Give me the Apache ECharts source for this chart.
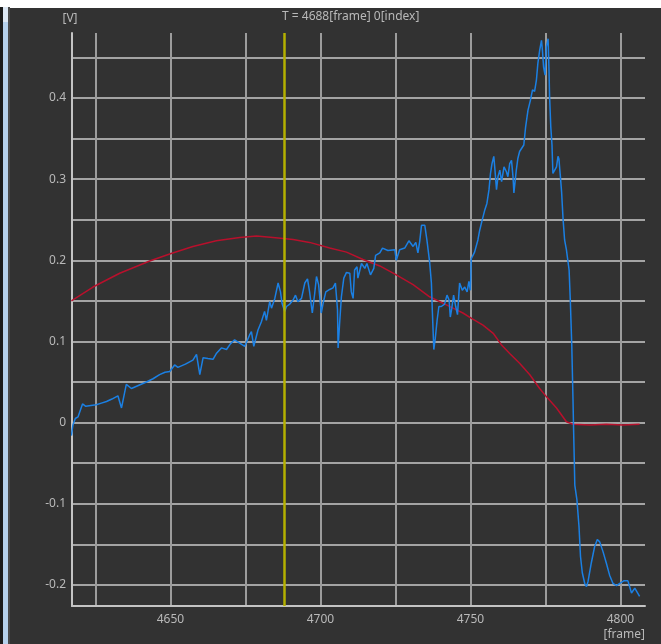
<!DOCTYPE html>
<html>
<head>
<meta charset="utf-8">
<script src="https://cdn.jsdelivr.net/npm/echarts@6/dist/echarts.min.js"></script>
<style>
  html, body { margin: 0; padding: 0; background: #ffffff; width: 661px; height: 644px; overflow: hidden; }
  #stripBlack { position: absolute; left: 0; top: 7px; width: 3px; height: 637px; background: #1c1c1c; }
  #stripLight { position: absolute; left: 3px; top: 7px; width: 5px; height: 15px; background: #dde8f4; }
  #stripBlue { position: absolute; left: 3px; top: 22px; width: 5px; height: 622px; background: #b6d1ec; }
  #stripEdge { position: absolute; left: 8px; top: 7px; width: 2px; height: 637px; background: #4a4a4a; }
  #chart { position: absolute; left: 10px; top: 8px; width: 651px; height: 636px; background: #323232; }
</style>
</head>
<body>
<div id="stripBlack"></div>
<div id="stripLight"></div>
<div id="stripBlue"></div>
<div id="stripEdge"></div>
<div id="chart"></div>
<script>
// ---- data ----
const titleText = 'T = 4688[frame] 0[index]';
const cursorFrame = 4688;

const xTickValues = [4625, 4650, 4675, 4700, 4725, 4750, 4775, 4800];
const xLabelValues = [4650, 4700, 4750, 4800];
const yTickValues = [-0.2, -0.15, -0.1, -0.05, 0, 0.05, 0.1, 0.15, 0.2, 0.25, 0.3, 0.35, 0.4, 0.45];
const yLabelValues = [-0.2, -0.1, 0, 0.1, 0.2, 0.3, 0.4];

const redFrames = [4617, 4624.2, 4633.1, 4643.1, 4650, 4657.5, 4665.3, 4673.1, 4678.7, 4684.2, 4690.9, 4696.4, 4703.1, 4708.7, 4714.2, 4719.8, 4725.3, 4730.9, 4736.4, 4742, 4747.5, 4750.5, 4754.2, 4757.6, 4760.3, 4763.1, 4766.4, 4769.8, 4773.1, 4775.3, 4778.7, 4782, 4784.2, 4789.8, 4795.3, 4800.8, 4806.4];
const redValues = [0.150, 0.167, 0.184, 0.199, 0.208, 0.217, 0.224, 0.228, 0.2299, 0.228, 0.2257, 0.222, 0.215, 0.210, 0.201, 0.193, 0.182, 0.170, 0.155, 0.145, 0.135, 0.128, 0.120, 0.110, 0.096, 0.085, 0.073, 0.059, 0.042, 0.032, 0.018, 0.001, -0.002, -0.003, -0.002, -0.003, -0.002];

const blueFrames = [4617.0, 4617.5, 4618.3, 4619.2, 4619.8, 4620.7, 4621.8, 4623.5, 4625.3, 4627.0, 4628.7, 4630.5, 4632.5, 4633.7, 4635.3, 4637.0, 4639.5, 4642.0, 4644.2, 4646.4, 4648.2, 4649.8, 4651.4, 4652.5, 4655.0, 4657.5, 4658.7, 4659.8, 4660.9, 4662.5, 4664.2, 4665.3, 4667.0, 4668.7, 4670.0, 4671.4, 4673.1, 4674.8, 4676.4, 4677.0, 4677.8, 4679.2, 4680.3, 4681.4, 4682.0, 4683.1, 4683.7, 4684.8, 4685.9, 4686.7, 4687.2, 4688.1, 4688.7, 4689.8, 4690.9, 4691.7, 4692.5, 4693.7, 4694.8, 4695.7, 4696.4, 4697.3, 4698.1, 4698.7, 4699.4, 4700.3, 4700.9, 4701.8, 4703.1, 4704.2, 4705.0, 4705.7, 4705.9, 4706.4, 4707.0, 4707.8, 4708.7, 4709.8, 4710.3, 4710.9, 4711.4, 4712.2, 4712.5, 4713.7, 4714.8, 4715.5, 4716.7, 4717.8, 4718.4, 4719.8, 4720.7, 4722.5, 4724.8, 4725.3, 4726.4, 4728.1, 4729.5, 4730.9, 4731.8, 4732.5, 4733.1, 4733.7, 4734.8, 4735.5, 4736.4, 4737.0, 4737.3, 4737.8, 4738.3, 4738.9, 4739.5, 4740.3, 4741.4, 4742.2, 4742.9, 4743.3, 4743.8, 4744.4, 4745.1, 4745.7, 4746.4, 4747.3, 4748.1, 4748.9, 4749.5, 4750.0, 4750.3, 4751.4, 4752.5, 4753.1, 4753.7, 4754.8, 4755.5, 4756.2, 4756.7, 4757.2, 4757.8, 4758.1, 4758.7, 4759.2, 4759.8, 4760.4, 4761.2, 4762.0, 4762.5, 4763.1, 4763.7, 4764.2, 4764.5, 4765.3, 4765.8, 4766.4, 4767.8, 4768.4, 4769.2, 4770.0, 4770.7, 4771.4, 4772.0, 4772.5, 4773.1, 4773.7, 4774.0, 4774.4, 4774.9, 4775.3, 4775.9, 4776.2, 4776.4, 4776.8, 4777.2, 4777.5, 4778.1, 4778.7, 4779.2, 4779.5, 4780.0, 4780.4, 4780.9, 4781.4, 4782.0, 4782.9, 4783.3, 4783.8, 4784.2, 4784.4, 4784.6, 4784.8, 4785.5, 4786.2, 4786.7, 4787.3, 4788.1, 4788.7, 4789.2, 4790.3, 4791.4, 4792.3, 4793.1, 4794.2, 4795.3, 4796.4, 4797.5, 4798.7, 4799.8, 4801.1, 4802.5, 4803.7, 4804.8, 4806.4];
const blueValues = [-0.016, -0.003, 0.005, 0.007, 0.005, 0.023, 0.020, 0.021, 0.022, 0.024, 0.026, 0.029, 0.033, 0.018, 0.047, 0.042, 0.046, 0.050, 0.054, 0.059, 0.062, 0.063, 0.071, 0.068, 0.072, 0.077, 0.084, 0.059, 0.080, 0.079, 0.078, 0.085, 0.092, 0.090, 0.097, 0.102, 0.098, 0.094, 0.108, 0.112, 0.094, 0.114, 0.124, 0.137, 0.126, 0.149, 0.141, 0.153, 0.172, 0.161, 0.147, 0.137, 0.143, 0.146, 0.151, 0.157, 0.149, 0.153, 0.172, 0.177, 0.161, 0.135, 0.159, 0.180, 0.170, 0.135, 0.147, 0.161, 0.164, 0.166, 0.172, 0.139, 0.092, 0.122, 0.155, 0.178, 0.185, 0.184, 0.161, 0.153, 0.188, 0.192, 0.178, 0.196, 0.190, 0.196, 0.182, 0.190, 0.206, 0.209, 0.215, 0.212, 0.213, 0.200, 0.213, 0.215, 0.224, 0.217, 0.222, 0.209, 0.223, 0.243, 0.243, 0.225, 0.198, 0.172, 0.139, 0.090, 0.104, 0.126, 0.143, 0.143, 0.146, 0.157, 0.151, 0.130, 0.141, 0.157, 0.143, 0.133, 0.172, 0.163, 0.167, 0.161, 0.174, 0.163, 0.202, 0.210, 0.225, 0.237, 0.246, 0.262, 0.270, 0.287, 0.307, 0.319, 0.328, 0.315, 0.287, 0.303, 0.311, 0.297, 0.315, 0.309, 0.303, 0.319, 0.323, 0.303, 0.283, 0.311, 0.325, 0.334, 0.342, 0.364, 0.385, 0.397, 0.410, 0.408, 0.422, 0.443, 0.459, 0.471, 0.459, 0.438, 0.428, 0.463, 0.473, 0.434, 0.401, 0.364, 0.342, 0.307, 0.309, 0.315, 0.328, 0.325, 0.303, 0.284, 0.250, 0.225, 0.213, 0.188, 0.151, 0.094, 0.028, -0.009, -0.042, -0.077, -0.095, -0.128, -0.165, -0.185, -0.198, -0.202, -0.196, -0.173, -0.153, -0.144, -0.147, -0.159, -0.173, -0.188, -0.198, -0.201, -0.198, -0.195, -0.195, -0.210, -0.204, -0.214];

// ---- chart ----
const pair = (xs, ys) => xs.map((x, i) => [x, ys[i]]);
const textColor = '#b9b9b9';
const font = 'Noto Sans';

const chart = echarts.init(document.getElementById('chart'), null, { renderer: 'canvas' });
chart.setOption({
  animation: false,
  backgroundColor: '#323232',
  textStyle: { fontFamily: font },
  grid: { left: 62, top: 25, width: 573, height: 573, containLabel: false },
  graphic: [{
    type: 'text', left: 272, top: 3,
    style: { text: titleText, fill: textColor, font: '12px "Noto Sans"' }
  }],
  xAxis: {
    type: 'value', min: 4617.2, max: 4808.2,
    name: '[frame]', nameLocation: 'end', nameGap: 0,
    nameTextStyle: { color: textColor, fontSize: 12, fontFamily: font, align: 'right', verticalAlign: 'top', padding: [23, 0, 0, 0] },
    axisLine: { show: true, onZero: false, lineStyle: { color: '#c4c4c4', width: 2 } },
    axisTick: { show: false, customValues: xTickValues },
    axisLabel: { customValues: xLabelValues, color: textColor, fontSize: 12, fontFamily: font, margin: 8,
                 formatter: v => String(v) },
    splitLine: { show: true, lineStyle: { color: '#9c9c9c', width: 2 } }
  },
  yAxis: {
    type: 'value', min: -0.226, max: 0.48,
    name: '[V]', nameLocation: 'end', nameGap: 8,
    nameTextStyle: { color: textColor, fontSize: 12, fontFamily: font, align: 'center', verticalAlign: 'bottom', padding: [0, 4, 0, 0] },
    axisLine: { show: true, onZero: false, lineStyle: { color: '#c4c4c4', width: 2 } },
    axisTick: { show: false, customValues: yTickValues },
    axisLabel: { customValues: yLabelValues, color: textColor, fontSize: 12, fontFamily: font, margin: 6 },
    splitLine: { show: true, lineStyle: { color: '#a4a4a4', width: 2 } }
  },
  series: [
    {
      type: 'line', name: 'red', data: pair(redFrames, redValues),
      showSymbol: false, symbol: 'none',
      lineStyle: { color: '#b8102c', width: 1.5 }
    },
    {
      type: 'line', name: 'blue', data: pair(blueFrames, blueValues),
      showSymbol: false, symbol: 'none',
      lineStyle: { color: '#1b80e4', width: 1.5 },
      markLine: {
        silent: true, symbol: ['none', 'none'], label: { show: false },
        lineStyle: { color: '#b4b000', width: 2.5, type: 'solid' },
        data: [{ xAxis: cursorFrame }]
      }
    }
  ]
});
</script>
</body>
</html>
